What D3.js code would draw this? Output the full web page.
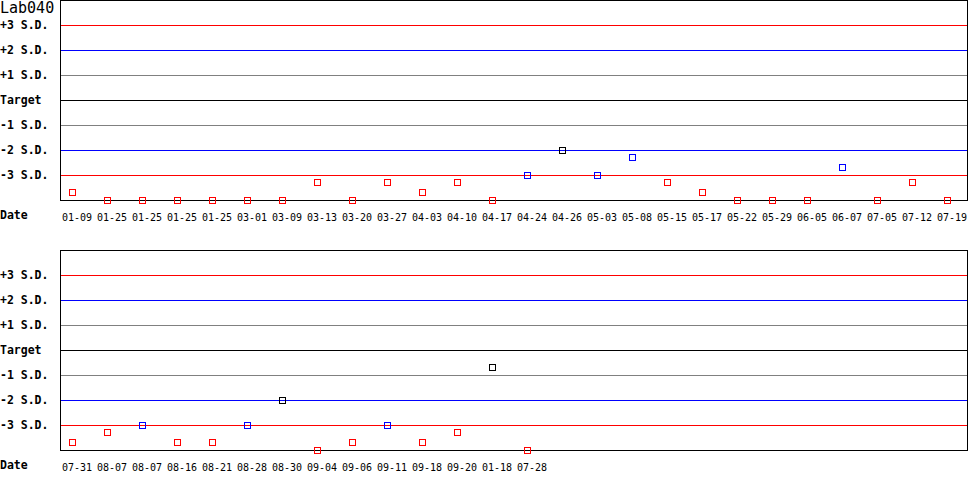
<!DOCTYPE html>
<html>
<head>
<meta charset="utf-8">
<script src="https://cdn.jsdelivr.net/npm/d3@7"></script>
<style>
  body { margin: 0; background: #fff; }
  svg { display: block; }
  text { font-family: "DejaVu Sans Mono", "Liberation Mono", monospace; fill: #000; }
</style>
</head>
<body>
<div id="canvas"></div>
<script>
const title = "Lab040";
const sdLabels = ["+3 S.D.", "+2 S.D.", "+1 S.D.", "Target", "-1 S.D.", "-2 S.D.", "-3 S.D."];
const sdLevels = [3, 2, 1, 0, -1, -2, -3];
const sdColors = ["#ff0000", "#0000ff", "#808080", "#000000", "#808080", "#0000ff", "#ff0000"];

const dates1 = ["01-09","01-25","01-25","01-25","01-25","03-01","03-09","03-13","03-20","03-27",
                "04-03","04-10","04-17","04-24","04-26","05-03","05-08","05-15","05-17","05-22",
                "05-29","06-05","06-07","07-05","07-12","07-19"];
const values1 = [-3.7,-4,-4,-4,-4,-4,-4,-3.3,-4,-3.3,
                 -3.7,-3.3,-4,-3,-2,-3,-2.3,-3.3,-3.7,-4,
                 -4,-4,-2.7,-4,-3.3,-4];
const colors1 = ["r","r","r","r","r","r","r","r","r","r",
                 "r","r","r","b","k","b","b","r","r","r",
                 "r","r","b","r","r","r"];

const dates2 = ["07-31","08-07","08-07","08-16","08-21","08-28","08-30","09-04","09-06","09-11",
                "09-18","09-20","01-18","07-28"];
const values2 = [-3.7,-3.3,-3,-3.7,-3.7,-3,-2,-4,-3.7,-3,
                 -3.7,-3.3,-0.7,-4];
const colors2 = ["r","r","b","r","r","b","k","r","r","b",
                 "r","r","k","r"];

const pointColor = { r: "#ff0000", b: "#0000ff", k: "#000000" };

const w = 970, h = 500;
const left = 60, right = 968, step = 35, xStart = 55;

const svg = d3.select("#canvas").append("svg")
  .attr("width", w).attr("height", h);

svg.append("text")
  .attr("x", 0).attr("y", 12.5)
  .style("font-size", "15px")
  .text(title);

function panel(top, dates, values, colors){
  const bottom = top + 200;
  const y = d3.scaleLinear().domain([-4, 4]).range([bottom, top]);
  const x = d3.scaleBand()
    .domain(d3.range(dates.length))
    .range([xStart, xStart + step * dates.length])
    .padding(0);

  const g = svg.append("g");

  // reference lines
  g.selectAll("line.sd")
    .data(sdLevels)
    .enter().append("line")
      .attr("x1", left).attr("x2", right)
      .attr("y1", d => Math.floor(y(d)) + 0.5)
      .attr("y2", d => Math.floor(y(d)) + 0.5)
      .attr("stroke", (d, i) => sdColors[i])
      .attr("stroke-width", 1);

  g.selectAll("text.sd")
    .data(sdLabels)
    .enter().append("text")
      .attr("x", 0)
      .attr("y", (d, i) => y(sdLevels[i]) + 3.7)
      .style("font-size", "11.5px")
      .style("font-weight", "bold")
      .text(d => d);

  // frame
  g.append("rect")
    .attr("x", left + 0.5).attr("y", top + 0.5)
    .attr("width", right - left - 1).attr("height", 200)
    .attr("fill", "none").attr("stroke", "#000").attr("stroke-width", 1);

  g.append("text")
    .attr("x", 0).attr("y", bottom + 19)
    .style("font-size", "11.5px")
    .style("font-weight", "bold")
    .text("Date");

  g.selectAll("text.date")
    .data(dates)
    .enter().append("text")
      .attr("x", (d, i) => x(i) + 7)
      .attr("y", bottom + 21)
      .style("font-size", "10px")
      .text(d => d);

  g.selectAll("rect.pt")
    .data(values)
    .enter().append("rect")
      .attr("x", (d, i) => x(i) + x.bandwidth() / 2 - 3)
      .attr("y", d => Math.floor(y(d)) + 0.5 - 3)
      .attr("width", 6).attr("height", 6)
      .attr("fill", "none")
      .attr("stroke", (d, i) => pointColor[colors[i]])
      .attr("stroke-width", 1);
}

panel(0, dates1, values1, colors1);
panel(250, dates2, values2, colors2);
</script>
</body>
</html>
